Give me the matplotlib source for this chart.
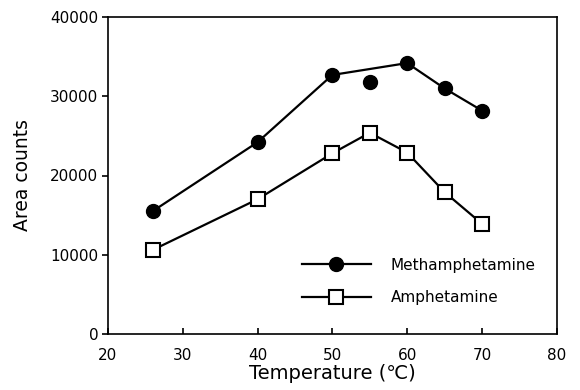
import numpy as np
import matplotlib
matplotlib.use('Agg')
from matplotlib import pyplot as plt

plt.rcParams['font.family'] = ['DejaVu Sans']

temps = [26, 40, 50, 55, 60, 65, 70]
meth = [15500, 24200, 32700, 31800, 34200, 31000, 28200]
amph = [10600, 17000, 22800, 25400, 22900, 17900, 13900]
# the methamphetamine line skips the 55 degree point
meth_on_line = [True, True, True, False, True, True, True]

fig = plt.figure(figsize=(5.8, 3.9), dpi=100)
ax = fig.add_axes([0.186, 0.144, 0.774, 0.812])

t = np.array(temps)
m = np.array(meth)
mask = np.array(meth_on_line)
ax.plot(t[mask], m[mask], color='black', lw=1.6)
ax.plot(t, m, 'o', color='black', ms=10)
ax.plot([], [], '-o', color='black', lw=1.6, ms=10, label='Methamphetamine')
ax.plot(temps, amph, '-s', color='black', lw=1.6, ms=10.5, mfc='white', mew=1.5,
        label='Amphetamine')

ax.set(xlim=[20, 80], ylim=[0, 40000])
ax.set_xticks(range(20, 81, 10))
ax.set_yticks(range(0, 40001, 10000))
ax.tick_params(axis='x', direction='in', length=4, width=1.2, labelsize=11, pad=10)
ax.tick_params(axis='y', direction='out', length=4, width=1.2, labelsize=11, pad=3)
for s in ax.spines.values():
	s.set_linewidth(1.2)
ax.set_xlabel('Temperature (℃)', fontsize=14, labelpad=1)
ax.set_ylabel('Area counts', fontsize=13.5, labelpad=13)

ax.legend(loc='upper left', bbox_to_anchor=(0.432, 0.24), frameon=False, fontsize=11,
          handlelength=4.5, handletextpad=1.3, labelspacing=1.15, borderpad=0,
          borderaxespad=0)

fig.savefig('out.png', dpi=100)
